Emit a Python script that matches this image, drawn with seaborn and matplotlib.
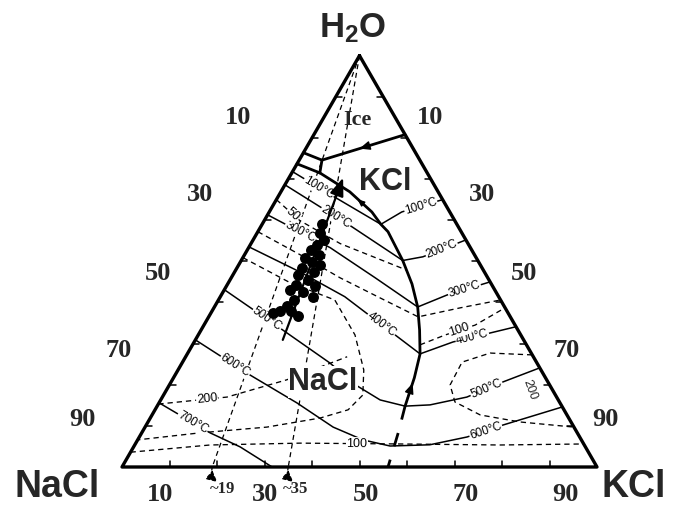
import numpy as np
import matplotlib
matplotlib.use("Agg")
import matplotlib.pyplot as plt
import seaborn as sns

# Compositions are wt% (NaCl, KCl); H2O makes up the rest.

# phase boundaries on the vapour-saturated liquidus
ice_kcl = [(0.0, 19.2), (20.6, 4.8)]
ice_hh = [(23.6, 0.0), (20.6, 4.8)]
hh_kcl = [(20.6, 4.8), (22.6, 5.9)]
hh_halite = [(26.3, 0.0), (22.6, 5.9)]
cotectic = [(22.6, 5.9), (18.6, 14.5), (16.4, 21.6), (16.0, 25.0), (15.4, 27.4),
            (15.8, 34.0), (16.7, 38.8), (18.3, 42.8), (20.7, 46.0), (23.5, 49.0),
            (27.6, 50.7), (33.0, 52.2)]
cotectic_low = [(33.0, 52.2), (37.7, 54.0), (44.0, 56.0)]

# liquidus isotherms, halite field
iso100_nacl = [(28.2, 0.0), (22.7, 11.4), (16.0, 25.0)]
iso200_nacl = [(31.4, 0.0), (22.4, 19.2), (15.8, 34.0)]
iso300_nacl = [(38.7, 0.0), (29.5, 17.2), (23.7, 30.3), (18.3, 42.8)]
iso400_nacl = [(46.5, 0.0), (38.8, 13.8), (32.4, 26.2), (23.5, 49.0)]
iso700 = [(84.4, 0.0), (77.3, 14.4), (72.7, 22.4), (68.4, 31.6)]
# isotherms running across both fields
iso500 = [(56.9, 0.0), (49.5, 17.2), (43.6, 31.1), (40.9, 39.1), (37.5, 46.2),
          (33.0, 52.2), (27.6, 57.3), (18.9, 64.1), (9.4, 69.9), (0.0, 75.9)]
iso600 = [(69.1, 0.0), (61.9, 15.7), (55.4, 29.0), (50.7, 39.6), (46.0, 47.4),
          (41.0, 53.9), (32.5, 62.1), (23.7, 69.0), (14.7, 75.1), (0.0, 85.4)]
# liquidus isotherms, sylvite field
iso100_kcl = [(16.0, 25.0), (10.1, 27.9), (0.0, 35.0)]
iso200_kcl = [(15.8, 34.0), (11.1, 37.8), (0.0, 44.8)]
iso300_kcl = [(18.3, 42.8), (10.7, 47.5), (0.0, 55.0)]
iso400_kcl = [(23.5, 49.0), (15.1, 54.5), (0.0, 65.9)]

# isobars (bar)
bar50 = [(35.0, 0.0), (32.6, 7.5), (26.9, 18.8), (16.2, 35.9)]
bar_mid = [(42.8, 0.0), (36.7, 11.7), (31.1, 22.9), (25.1, 33.8), (19.4, 44.1),
           (9.4, 51.9), (0.0, 59.4)]
bar100_kcl = [(22.4, 47.9), (15.9, 52.0), (8.4, 57.1), (0.0, 61.3)]
bar200_loop = [(49.1, 0.0), (42.2, 13.0), (34.9, 24.5), (34.9, 33.0), (37.3, 39.1),
               (40.55, 41.95), (45.45, 40.65), (52.35, 35.75), (64.65, 25.65),
               (79.45, 12.25), (93.4, 0.0)]
bar200_low = [(84.7, 0.0), (69.4, 13.6), (54.7, 24.1), (39.2, 34.0)]
bar100_low = [(96.4, 0.0), (78.8, 15.85), (59.6, 34.6), (38.7, 55.7),
              (17.75, 76.9), (0.0, 94.4)]
bar200_kcl = [(0.0, 72.75), (8.65, 63.65), (15.65, 58.85), (20.95, 59.1),
              (22.0, 62.2), (18.25, 69.1), (10.75, 78.3), (0.0, 90.3)]

# salt ratio lines from the H2O apex, KCl/(NaCl+KCl) in %
ratio_kcl = [19, 35]

# fluid inclusion compositions
incl_nacl = [28.4, 29.9, 29.9, 31.9, 33.8, 32.7, 36.0, 35.0, 33.8, 37.9, 35.9, 39.6,
             38.1, 41.2, 37.4, 43.0, 40.6, 39.1, 43.5, 45.7, 47.7, 49.4, 45.4, 44.6]
incl_kcl = [12.5, 13.2, 14.9, 14.1, 13.4, 15.7, 13.1, 15.1, 17.1, 13.7, 16.7, 13.7,
            16.4, 14.5, 18.6, 13.9, 16.8, 19.5, 15.9, 15.1, 14.3, 13.1, 16.6, 18.7]
trend = [(50.7, 18.4), (18.3, 11.4)]

edge_ticks = [10, 30, 50, 70, 90]

sns.set_theme(style="white")
plt.rcParams["font.family"] = ["Liberation Sans", "DejaVu Sans"]
plt.rcParams["mathtext.fontset"] = "custom"
plt.rcParams["mathtext.bf"] = "Liberation Sans:bold"
plt.rcParams["mathtext.rm"] = "Liberation Sans"

H = np.sqrt(3) / 2


def to_xy(points):
    arr = np.asarray(points, float)
    nacl, kcl = arr[:, 0], arr[:, 1]
    h2o = 100.0 - nacl - kcl
    return (kcl + h2o / 2) / 100.0, h2o / 100.0 * H


fig = plt.figure(figsize=(6.95, 5.07), dpi=100)
ax = fig.add_axes([0, 0, 1, 1])
ax.set_xlim(-122 / 475, 573 / 475)
ax.set_ylim(-40 / 475, 467 / 475)
ax.axis("off")

DASH = (0, (4.0, 3.0))


def draw(points, lw, ls="-", z=2):
    x, y = to_xy(points)
    sns.lineplot(x=x, y=y, sort=False, estimator=None, color="black", lw=lw,
                 linestyle=ls, legend=False, ax=ax, zorder=z)


def label_on(points, frac, text, size=8.5, dx=0.0, dy=0.0):
    x, y = to_xy(points)
    seg = np.hypot(np.diff(x), np.diff(y))
    cum = np.concatenate([[0.0], np.cumsum(seg)])
    s = frac * cum[-1]
    i = int(np.clip(np.searchsorted(cum, s) - 1, 0, len(seg) - 1))
    t = (s - cum[i]) / seg[i]
    px = x[i] + t * (x[i + 1] - x[i])
    py = y[i] + t * (y[i + 1] - y[i])
    ang = np.degrees(np.arctan2(y[i + 1] - y[i], x[i + 1] - x[i]))
    if ang > 90:
        ang -= 180
    elif ang < -90:
        ang += 180
    ax.text(px + dx, py + dy, text, rotation=ang, rotation_mode="anchor",
            ha="center", va="center", fontsize=size, color="black", zorder=4,
            bbox=dict(fc="white", ec="none", pad=0.4))


def arrow_on(p_from, p_to, size=9):
    xf, yf = to_xy([p_from])
    xt, yt = to_xy([p_to])
    ax.annotate("", xy=(xt[0], yt[0]), xytext=(xf[0], yf[0]),
                arrowprops=dict(arrowstyle="-|>,head_length=0.7,head_width=0.3",
                                color="black", lw=1.0, mutation_scale=size,
                                shrinkA=0, shrinkB=0), zorder=5)


# triangle frame
draw([(0, 0), (100, 0), (0, 100), (0, 0)], lw=2.4, z=6)
tl = 6 / 475
for v in range(10, 100, 10):
    x, y = to_xy([(v, 0)])
    ax.plot([x[0], x[0] + tl], [y[0], y[0]], color="black", lw=1.1, zorder=6)
    x, y = to_xy([(0, v)])
    ax.plot([x[0], x[0] - tl], [y[0], y[0]], color="black", lw=1.1, zorder=6)
    x, y = to_xy([(100 - v, v)])
    ax.plot([x[0], x[0]], [y[0], y[0] + tl], color="black", lw=1.1, zorder=6)

# salt-ratio guide lines
for r in ratio_kcl:
    draw([(0, 0), (100 - r, r)], lw=0.9, ls=DASH, z=2)
    xb, yb = to_xy([(100 - r, r)])
    ax.annotate("", xy=(xb[0] + 5 / 475, -15 / 475), xytext=(xb[0], yb[0]),
                arrowprops=dict(arrowstyle="-|>,head_length=0.6,head_width=0.3",
                                color="black", lw=0.9, ls=(0, (2.5, 2)),
                                mutation_scale=11, shrinkA=0, shrinkB=0,
                                connectionstyle="arc3,rad=0.3"))

# isobars
for curve in [bar50, bar_mid, bar100_kcl, bar200_loop, bar200_low, bar100_low,
              bar200_kcl]:
    draw(curve, lw=0.95, ls=DASH, z=2)

# isotherms
for curve in [iso100_nacl, iso200_nacl, iso300_nacl, iso400_nacl, iso500, iso600,
              iso700, iso100_kcl, iso200_kcl, iso300_kcl, iso400_kcl]:
    draw(curve, lw=1.1, z=3)

# phase boundaries
for curve in [ice_kcl, ice_hh, hh_kcl, hh_halite, cotectic]:
    draw(curve, lw=2.0, z=5)
draw(cotectic_low, lw=2.0, ls=(0, (5, 5)), z=5)

arrow_on((9.3, 12.7), (11.3, 11.3))
arrow_on((31.5, 51.7), (28.6, 51.0))
arrow_on((17.2, 19.0), (17.9, 17.0), size=6)

# inclusion data and trend
ix, iy = to_xy(list(zip(incl_nacl, incl_kcl)))
sns.scatterplot(x=ix, y=iy, s=62, color="black", edgecolor="black", linewidth=0,
                legend=False, ax=ax, zorder=7)
tx, ty = to_xy(trend)
ax.annotate("", xy=(tx[1], ty[1]), xytext=(tx[0], ty[0]),
            arrowprops=dict(arrowstyle="-|>,head_length=0.9,head_width=0.35",
                            color="black", lw=1.6, mutation_scale=12,
                            shrinkA=0, shrinkB=0), zorder=7)

# labels on isotherms
label_on(iso100_nacl, 0.30, "100°C")
label_on(iso200_nacl, 0.43, "200°C")
label_on(iso300_nacl, 0.21, "300°C")
label_on(iso400_nacl, 0.76, "400°C")
label_on(iso500, 0.145, "500°C")
label_on(iso600, 0.118, "600°C")
label_on(iso700, 0.30, "700°C")
label_on(iso100_kcl, 0.66, "100°C")
label_on(iso200_kcl, 0.61, "200°C")
label_on(iso300_kcl, 0.65, "300°C")
label_on(iso400_kcl, 0.55, "400°C")
label_on(iso500, 0.84, "500°C")
label_on(iso600, 0.80, "600°C")

# labels on isobars
label_on(bar50, 0.15, "50", size=9)
label_on(bar100_kcl, 0.45, "100", size=9)
label_on(bar100_low, 0.50, "100", size=9)
label_on(bar200_low, 0.25, "200", size=9)
ax.text(530 / 475 - 122 / 475, (467 - 390) / 475, "200", rotation=-70,
        ha="center", va="center", fontsize=9, zorder=4,
        bbox=dict(fc="white", ec="none", pad=0.4))

# edge numbers
serif = dict(family="Liberation Serif", weight="bold", fontsize=19,
             ha="center", va="center")
left_pos = [(0.244, 0.735), (0.164, 0.573), (0.076, 0.408), (-0.008, 0.246),
            (-0.084, 0.099)]
right_pos = [(0.648, 0.735), (0.758, 0.573), (0.846, 0.408), (0.937, 0.246),
             (1.017, 0.099)]
bottom_pos = [(0.080, -0.057), (0.301, -0.057), (0.514, -0.057), (0.724, -0.057),
              (0.933, -0.057)]
for v, lp, rp, bp in zip(edge_ticks, left_pos, right_pos, bottom_pos):
    ax.text(*lp, str(v), **serif)
    ax.text(*rp, str(v), **serif)
    ax.text(*bp, str(v), **serif)
for r, xpos in zip(ratio_kcl, [0.211, 0.366]):
    ax.text(xpos, -0.046, f"~{r}", family="Liberation Serif", weight="bold",
            fontsize=12, ha="center", va="center")

# corner and field names
ax.text(0.486, 0.924, r"$\mathbf{H_2O}$", fontsize=25, ha="center", va="center")
ax.text(-0.137, -0.063, "NaCl", fontsize=27, weight="bold", ha="center",
        va="baseline")
ax.text(1.077, -0.063, "KCl", fontsize=27, weight="bold", ha="center",
        va="baseline")
ax.text(0.495, 0.731, "Ice", family="Liberation Serif", weight="bold",
        fontsize=16, ha="center", va="center")
ax.text(0.554, 0.600, "KCl", fontsize=22, weight="bold", ha="center", va="center")
ax.text(0.423, 0.179, "NaCl", fontsize=22, weight="bold", ha="center",
        va="center", zorder=4, bbox=dict(fc="white", ec="none", pad=0.5))

fig.savefig("out.png", dpi=100)
